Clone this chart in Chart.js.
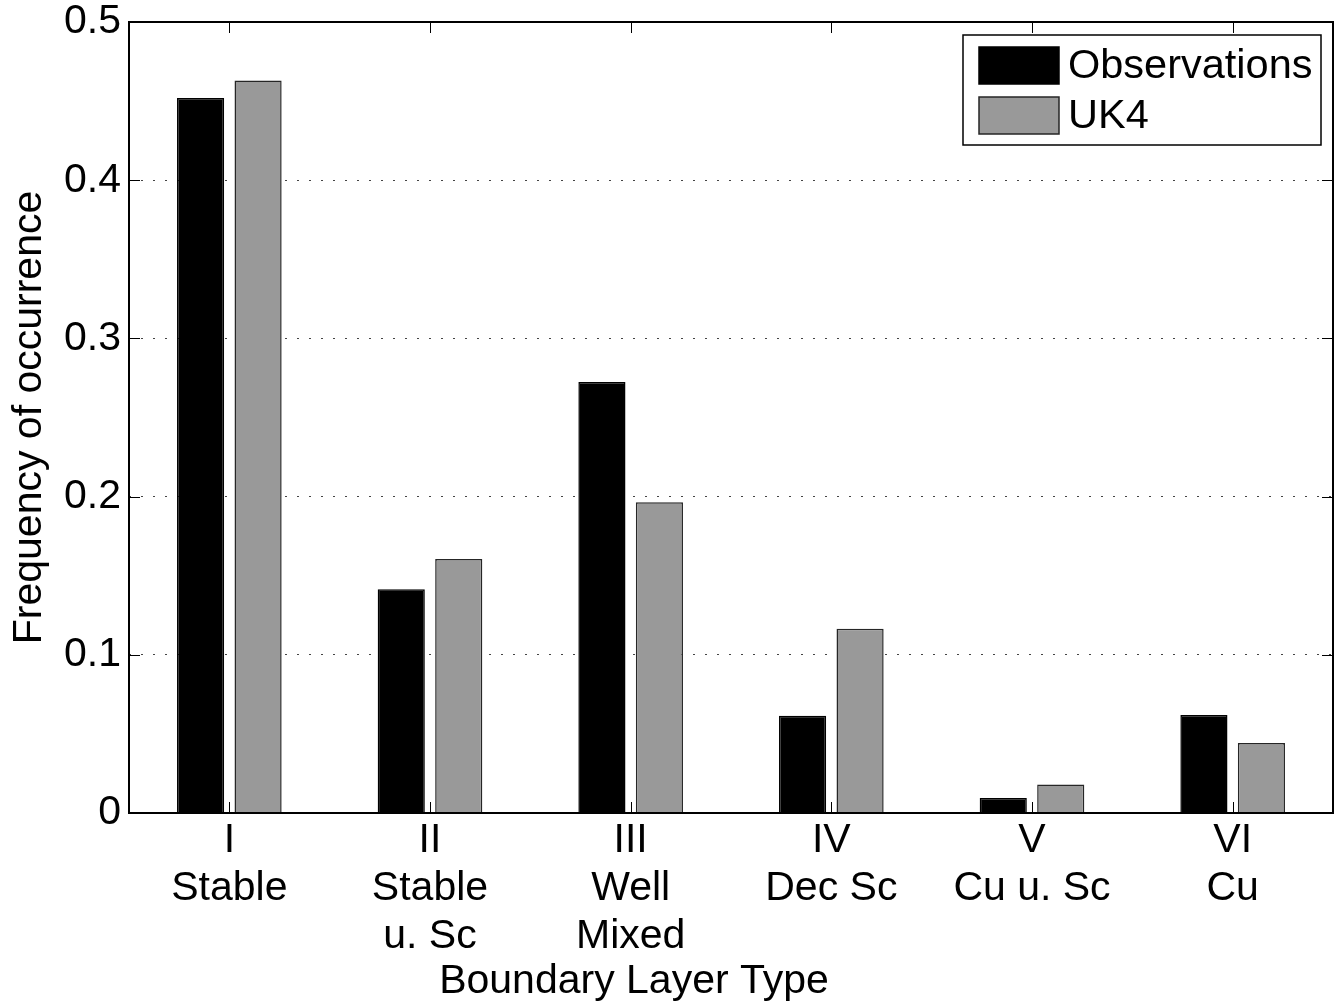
<!DOCTYPE html>
<html>
<head>
<meta charset="utf-8">
<script src="https://cdn.jsdelivr.net/npm/chart.js@4.4.0/dist/chart.umd.min.js"></script>
<style>
  html, body { margin: 0; padding: 0; background: #fff; }
  canvas { display: block; }
</style>
</head>
<body>
<canvas id="blChart" width="1341" height="1008"></canvas>
<script>
// -----------------------------
// Data
// -----------------------------
const categories = [
  ['I', 'Stable'],
  ['II', 'Stable', 'u. Sc'],
  ['III', 'Well', 'Mixed'],
  ['IV', 'Dec Sc'],
  ['V', 'Cu u. Sc'],
  ['VI', 'Cu']
];
const observations = [0.452, 0.1415, 0.2725, 0.0615, 0.0095, 0.062];
const uk4 = [0.463, 0.1605, 0.1965, 0.1165, 0.018, 0.0442];
const yTicks = [0, 0.1, 0.2, 0.3, 0.4, 0.5];
const seriesNames = ['Observations', 'UK4'];
const xTitle = 'Boundary Layer Type';
const yTitle = 'Frequency of occurrence';

const FONT = '"Liberation Sans", Arial, Helvetica, sans-serif';

// -----------------------------
// Axes box, inside tick marks, legend, x label
// -----------------------------
const matlabAxes = {
  id: 'matlabAxes',
  afterDatasetsDraw(chart) {
    const { ctx, chartArea: a, scales: { x, y } } = chart;
    ctx.save();
    ctx.strokeStyle = '#000';
    ctx.lineWidth = 1;
    ctx.beginPath();
    yTicks.forEach(v => {
      const py = Math.round(y.getPixelForValue(v)) + 0.5;
      ctx.moveTo(a.left, py); ctx.lineTo(a.left + 11, py);
      ctx.moveTo(a.right, py); ctx.lineTo(a.right - 11, py);
    });
    categories.forEach((c, i) => {
      const px = Math.round(x.getPixelForValue(i)) + 0.5;
      ctx.moveTo(px, a.bottom); ctx.lineTo(px, a.bottom - 11);
      ctx.moveTo(px, a.top); ctx.lineTo(px, a.top + 11);
    });
    ctx.stroke();
    ctx.lineWidth = 2;
    ctx.strokeRect(a.left, a.top, a.right - a.left, a.bottom - a.top);
    ctx.restore();
  },
  afterDraw(chart) {
    const { ctx } = chart;
    ctx.save();
    // legend box
    const bx = 963, by = 35, bw = 358, bh = 110;
    ctx.fillStyle = '#fff';
    ctx.fillRect(bx, by, bw, bh);
    ctx.strokeStyle = '#000';
    ctx.lineWidth = 1.5;
    ctx.strokeRect(bx, by, bw, bh);
    ctx.font = '41.5px ' + FONT;
    ctx.textBaseline = 'middle';
    ctx.textAlign = 'left';
    chart.data.datasets.forEach((ds, i) => {
      const sy = 47 + i * 50;
      ctx.fillStyle = ds.backgroundColor;
      ctx.fillRect(979, sy, 80, 37);
      ctx.strokeStyle = ds.borderColor;
      ctx.lineWidth = 1.5;
      ctx.strokeRect(979, sy, 80, 37);
      ctx.fillStyle = '#000';
      ctx.fillText(ds.label, 1068, sy + 20);
    });
    // x axis label
    ctx.font = '41px ' + FONT;
    ctx.textAlign = 'center';
    ctx.fillText(xTitle, 634, 982);
    ctx.restore();
  }
};

new Chart(document.getElementById('blChart'), {
  type: 'bar',
  data: {
    labels: categories,
    datasets: [
      {
        label: seriesNames[0],
        data: observations,
        backgroundColor: '#000000',
        borderColor: '#000000',
        borderWidth: 1.5
      },
      {
        label: seriesNames[1],
        data: uk4,
        backgroundColor: '#999999',
        borderColor: '#262626',
        borderWidth: 1.5
      }
    ]
  },
  options: {
    responsive: false,
    animation: false,
    devicePixelRatio: 1,
    categoryPercentage: 0.573,
    barPercentage: 0.82,
    layout: { padding: { left: 0, right: 8, top: 22, bottom: 0 } },
    plugins: {
      legend: { display: false },
      tooltip: { enabled: false }
    },
    scales: {
      x: {
        offset: true,
        grid: { display: false, drawTicks: false },
        border: { display: false },
        ticks: {
          color: '#000',
          padding: 4,
          maxRotation: 0,
          autoSkip: false,
          font: { family: FONT, size: 41, lineHeight: 1.17 }
        },
        afterFit: s => { s.height = 195; }
      },
      y: {
        min: 0,
        max: 0.5,
        grid: {
          drawTicks: false,
          color: ctx => (ctx.tick.value > 0 && ctx.tick.value < 0.5) ? '#444' : 'rgba(0,0,0,0)',
          lineWidth: 1
        },
        border: { display: false, dash: [2, 10] },
        ticks: {
          color: '#000',
          padding: 8,
          stepSize: 0.1,
          font: { family: FONT, size: 41, lineHeight: 0.5 },
          callback: v => String(Math.round(v * 10) / 10)
        },
        title: {
          display: true,
          text: yTitle,
          color: '#000',
          padding: { top: 5, bottom: 0 },
          font: { family: FONT, size: 41 }
        },
        afterFit: s => { s.width = 129; }
      }
    }
  },
  plugins: [matlabAxes]
});
</script>
</body>
</html>
